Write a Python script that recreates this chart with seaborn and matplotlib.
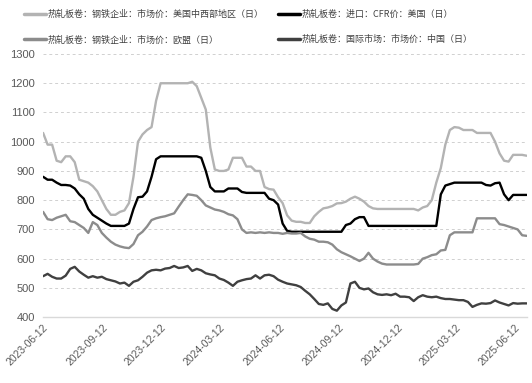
import pandas as pd
import seaborn as sns
import matplotlib.pyplot as plt

# weekly readings, 2023-06-12 onwards
dates = pd.date_range("2023-06-12", periods=108, freq="7D")

us_midwest = [
    1030, 990, 990, 935, 930, 950, 950, 930, 870, 865,
    860, 848, 830, 800, 770, 750, 750, 760, 765, 790,
    880, 1000, 1025, 1040, 1050, 1140, 1200, 1200, 1200, 1200,
    1200, 1200, 1200, 1205, 1190, 1150, 1110, 980, 905, 900,
    900, 905, 945, 945, 945, 915, 915, 900, 900, 845,
    838, 836, 810, 790, 748, 730, 726, 726, 722, 722,
    745, 760, 772, 775, 780, 789, 790, 795, 805, 812,
    805, 795, 780, 772, 770, 770, 770, 770, 770, 770,
    770, 770, 770, 765, 775, 780, 800, 860, 910, 990,
    1040, 1050, 1048, 1040, 1040, 1040, 1030, 1030, 1030, 1030,
    1000, 960, 935, 932, 955, 955, 955, 952,
]
us_cfr = [
    880, 870, 870, 860, 852, 852, 850, 840, 820, 805,
    770, 750, 740, 730, 720, 712, 712, 712, 712, 720,
    770, 810, 812, 830, 880, 940, 950, 950, 950, 950,
    950, 950, 950, 950, 950, 945, 900, 845, 830, 830,
    830, 840, 840, 840, 828, 825, 825, 825, 825, 825,
    805, 800, 785, 720, 695, 692, 692, 692, 692, 692,
    692, 692, 692, 692, 692, 692, 692, 715, 720, 735,
    742, 742, 712, 712, 712, 712, 712, 712, 712, 712,
    712, 712, 712, 712, 712, 712, 712, 712, 820, 850,
    855, 860, 860, 860, 860, 860, 860, 860, 852, 850,
    858, 860, 820, 800, 818, 818, 818, 818,
]
eu = [
    760, 735, 732, 740, 745, 750, 728, 725, 715, 705,
    688, 725, 715, 688, 672, 658, 648, 642, 638, 636,
    650, 680, 692, 710, 732, 738, 742, 745, 750, 755,
    778, 800, 820, 818, 815, 800, 782, 775, 768, 765,
    760, 752, 748, 735, 700, 688, 690, 688, 690, 688,
    690, 688, 688, 685, 688, 686, 686, 688, 676, 668,
    665, 658, 658, 656, 648, 632, 622, 615, 608, 600,
    592, 600, 620, 600, 590, 583, 580, 580, 580, 580,
    580, 580, 580, 582, 600, 605, 612, 615, 628, 630,
    680, 690, 690, 690, 690, 690, 738, 738, 738, 738,
    738, 718, 715, 710, 705, 700, 680, 678,
]
china = [
    540, 548, 538, 532, 532, 542, 565, 572, 556, 545,
    535, 540, 535, 538, 530, 526, 522, 515, 518, 507,
    521, 526, 538, 552, 560, 562, 560, 566, 568, 575,
    568, 570, 575, 558, 565, 560, 550, 546, 543, 532,
    527, 518, 507, 521, 526, 530, 532, 543, 532, 543,
    545, 540, 528, 521, 515, 512, 509, 503, 490, 478,
    462, 445, 442, 447, 428, 422, 440, 450, 515, 521,
    500, 495, 498, 485, 478, 476, 478, 475, 480, 470,
    470, 468, 455, 468, 475, 470, 468, 470, 465, 462,
    462, 460, 458, 458, 452, 435, 442, 447, 446, 448,
    457, 450, 445, 440, 448, 446, 447, 447,
]

labels = [
    "热轧板卷：钢铁企业：市场价：美国中西部地区（日）",
    "热轧板卷：进口：CFR价：美国（日）",
    "热轧板卷：钢铁企业：市场价：欧盟（日）",
    "热轧板卷：国际市场：市场价：中国（日）",
]
colors = ["#b3b3b3", "#000000", "#8c8c8c", "#404040"]
tick_dates = ["2023-06-12", "2023-09-12", "2023-12-12", "2024-03-12", "2024-06-12",
              "2024-09-12", "2024-12-12", "2025-03-12", "2025-06-12"]

df = pd.concat([
    pd.DataFrame({"date": dates, "value": vals, "series": lab})
    for vals, lab in zip([us_midwest, us_cfr, eu, china], labels)
])

sns.set_theme(style="white")
plt.rcParams["font.family"] = ["Liberation Sans", "Noto Sans CJK SC"]

fig = plt.figure(figsize=(5.32, 3.83), dpi=100)
ax = fig.add_axes([0.081, 0.172, 0.909, 0.687])

sns.lineplot(data=df, x="date", y="value", hue="series", hue_order=labels,
             palette=colors, linewidth=1.7, ax=ax, legend=False)

ax.set_ylim(400, 1300)
ax.set_yticks(range(400, 1301, 100))
ax.set_xlim(dates[0], dates[-1])
ax.set_xticks(pd.to_datetime(tick_dates))
ax.set_xticklabels(tick_dates, rotation=45, ha="right", rotation_mode="anchor",
                   fontsize=7.5, color="#595959")
ax.tick_params(axis="y", labelsize=8, labelcolor="#595959", length=0, pad=6)
ax.tick_params(axis="x", length=0, pad=4)
ax.set_xlabel("")
ax.set_ylabel("")
ax.grid(axis="y", linestyle=(0, (3, 3)), color="#d0d0d0", linewidth=0.7)
for side in ["top", "right", "left"]:
    ax.spines[side].set_visible(False)
ax.spines["bottom"].set_color("#d9d9d9")
ax.spines["bottom"].set_linewidth(1)

handles = [plt.Line2D([], [], color=c, linewidth=2.5) for c in colors]
order = [0, 2, 1, 3]
fig.legend([handles[i] for i in order], [labels[i] for i in order],
           loc="upper left", bbox_to_anchor=(0.03, 0.995), ncol=2, frameon=False,
           handlelength=2.4, handletextpad=0.2, columnspacing=1.6,
           labelspacing=1.75, prop={"family": ["Noto Sans CJK SC"], "size": 6.5},
           labelcolor="#404040")

fig.savefig("out.png", dpi=100)
